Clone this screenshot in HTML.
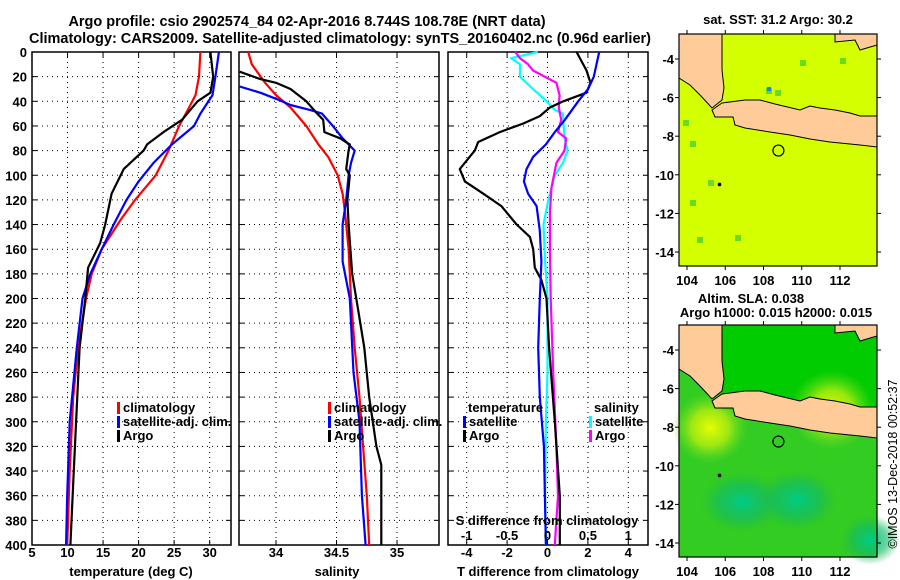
<!DOCTYPE html>
<html><head><meta charset="utf-8"><style>
html,body{margin:0;padding:0;background:#fff}
svg{display:block;font-family:"Liberation Sans",sans-serif;font-weight:bold}
</style></head><body>
<svg id="c" width="900" height="580" viewBox="0 0 900 580"></svg>
<script>
// ---------- data ----------
const depthTicks=[0,20,40,60,80,100,120,140,160,180,200,220,240,260,280,300,320,340,360,380,400];
const tempTicks=[5,10,15,20,25,30];
const salTicks=[34,34.5,35];
const tdiffTicks=[-4,-2,0,2,4];
const sdiffTicks=[-1,-0.5,0,0.5,1];
const tempClimDepth=[0,20,35,45,60,80,100,120,135,160,180,200,240,280,340,400];
const tempClim=[28.7,28.5,28.0,27.1,25.7,24.2,22.4,19.5,17.6,14.8,13.4,12.6,11.5,10.8,10.3,9.95];
const tempSatDepth=[0,20,35,50,60,75,90,105,120,140,160,180,200,240,300,360,400];
const tempSat=[31.3,30.8,30.4,28.7,27.8,24.7,22.1,20.0,18.3,16.5,14.8,13.2,12.1,11.3,10.3,9.95,9.8];
const tempArgoDepth=[0,20,33,40,55,65,75,80,95,115,140,155,175,200,240,300,350,400];
const tempArgo=[30.1,30.5,30.1,28.3,26.1,23.5,21.2,20.7,17.9,16.2,15.3,14.6,12.9,12.5,11.7,11.2,10.8,10.4];
const salClimDepth=[0,10,25,35,45,60,75,85,100,115,130,160,200,240,280,320,360,400];
const salClim=[33.77,33.80,33.91,34.0,34.12,34.25,34.35,34.43,34.51,34.55,34.57,34.60,34.62,34.65,34.69,34.72,34.75,34.77];
const salSatDepth=[28,33,38,43,47,50,60,70,80,90,100,120,140,170,200,260,300,360,400];
const salSat=[33.70,33.87,34.0,34.12,34.28,34.38,34.47,34.55,34.65,34.62,34.60,34.58,34.55,34.55,34.61,34.64,34.69,34.71,34.74];
const salArgoDepth=[16,22,25,30,40,50,55,65,70,75,80,95,100,120,140,180,210,240,280,320,335,400];
const salArgo=[33.70,33.87,34.0,34.12,34.25,34.34,34.39,34.40,34.53,34.61,34.60,34.58,34.61,34.59,34.60,34.63,34.68,34.73,34.77,34.83,34.87,34.87];
const tdArgoDepth=[0,15,25,33,40,45,52,58,65,73,80,85,95,105,115,125,140,150,160,175,185,200,240,300,360,400];
const tdArgo=[1.44,1.93,2.13,1.93,0.78,0.12,-0.38,-1.2,-2.36,-3.43,-3.6,-3.85,-4.34,-4.09,-3.18,-2.28,-1.53,-0.87,-0.71,-0.63,-0.30,-0.05,0.08,0.36,0.61,0.61];
const tdSatDepth=[0,20,30,40,55,65,75,85,95,105,115,125,135,145,170,200,240,280,320,360,400];
const tdSat=[2.56,2.29,2.01,1.52,0.86,0.36,-0.08,-0.71,-1.04,-1.17,-0.96,-0.54,-0.46,-0.38,-0.30,-0.38,-0.46,-0.38,-0.18,-0.13,-0.08];
const sdSatDepth=[0,5,10,20,30,40,47,50,60,70,80,90,100,120,140,170,200,260,300,360,400];
const sdSat=[-0.12,-0.45,-0.34,-0.34,-0.18,-0.01,0.09,0.19,0.20,0.21,0.25,0.19,0.09,0.01,-0.05,-0.03,0.0,0.0,-0.02,-0.03,-0.02];
const sdArgoDepth=[0,5,10,15,25,35,45,55,65,70,80,90,110,130,160,200,260,320,360,400];
const sdArgo=[-0.40,-0.34,-0.24,-0.18,0.11,0.15,0.14,0.17,0.13,0.23,0.21,0.11,0.05,0.03,0.03,0.04,0.07,0.11,0.13,0.09];
const lonTicks=[104,106,108,110,112];
const latTicks=[-4,-6,-8,-10,-12,-14];
const argoLon=108.78, argoLat=-8.744;

// ---------- helpers ----------
const svg=document.getElementById('c');
const NS='http://www.w3.org/2000/svg';
function mk(tag,attrs,parent){const e=document.createElementNS(NS,tag);for(const k in attrs)e.setAttribute(k,attrs[k]);(parent||svg).appendChild(e);return e;}
function txt(s,x,y,anchor,size,parent){const t=mk('text',{x:x,y:y,'text-anchor':anchor||'middle','font-size':size||13,fill:'#000'},parent);t.textContent=s;return t;}
const Y0=52,Y1=545;
const yD=d=>Y0+(d/400)*(Y1-Y0);
function lin(d0,d1,r0,r1){return v=>r0+(v-d0)/(d1-d0)*(r1-r0);}

function panel(name,x0,x1,xs,ticks,fmt,yLabels){
  const g=mk('g',{});
  
  
  mk('rect',{x:x0,y:Y0,width:x1-x0,height:Y1-Y0,fill:'#fff',stroke:'none'},g);
  depthTicks.forEach(d=>{
    const y=yD(d);
    if(d>0&&d<400){const l=mk('line',{x1:x0,x2:x1,y1:y,y2:y,stroke:'#000','stroke-width':1,'stroke-dasharray':'1,4'},g);}
    mk('line',{x1:x0,x2:x0+5,y1:y,y2:y,stroke:'#000'},g);
    mk('line',{x1:x1-5,x2:x1,y1:y,y2:y,stroke:'#000'},g);
    if(yLabels){const t=txt(String(d),27,y+5,'end',13,g);}
  });
  ticks.forEach(v=>{
    const x=xs(v);
    const l=mk('line',{x1:x,x2:x,y1:Y0,y2:Y1,stroke:'#000','stroke-dasharray':'1,4'},g);
    
    
    mk('line',{x1:x,x2:x,y1:Y1-5,y2:Y1,stroke:'#000'},g);
    mk('line',{x1:x,x2:x,y1:Y0,y2:Y0+5,stroke:'#000'},g);
    const t=txt(fmt(v),x,557,'middle',13,g);
    
    
  });
  mk('rect',{x:x0,y:Y0,width:x1-x0,height:Y1-Y0,fill:'none',stroke:'#000','stroke-width':1.5},g);
  return g;
}
function series(name,depths,vals,xs,color,g){
  const pts=depths.map((d,i)=>xs(vals[i]).toFixed(1)+','+yD(d).toFixed(1)).join(' ');
  const p=mk('polyline',{points:pts,fill:'none',stroke:color,'stroke-width':2.2,'stroke-linejoin':'round'},g);
  
  
}
function legend(items,x,y,g){
  items.forEach((it,i)=>{
    const yy=y+i*14;
    mk('rect',{x:x,y:yy-10,width:3,height:12,fill:it[1]},g);
    const t=txt(it[0],x+6,yy,'start',13,g);
    
    
  });
}

// titles
let t=txt('Argo profile: csio 2902574_84 02-Apr-2016 8.744S 108.78E (NRT data)',307,26,'middle',14.5);


t=txt('Climatology: CARS2009. Satellite-adjusted climatology: synTS_20160402.nc (0.96d earlier)',340,43,'middle',14.5);
t.setAttribute('textLength','622');



// panel 1 temperature
const xT=lin(5,33,32,231);
const g1=panel('temperature-panel',32,231,xT,tempTicks,v=>String(v),true);
series('temp-climatology-line',tempClimDepth,tempClim,xT,'#f00',g1);
series('temp-satellite-line',tempSatDepth,tempSat,xT,'#00f',g1);
series('temp-argo-line',tempArgoDepth,tempArgo,xT,'#000',g1);
legend([['climatology','#f00'],['satellite-adj. clim.','#00f'],['Argo','#000']],117,412,g1);
t=txt('temperature (deg C)',131,576,'middle',13);



// panel 2 salinity
const xS=lin(33.694,35.347,239,439);
const g2=panel('salinity-panel',239,439,xS,salTicks,v=>String(v),false);
series('sal-climatology-line',salClimDepth,salClim,xS,'#f00',g2);
series('sal-satellite-line',salSatDepth,salSat,xS,'#00f',g2);
series('sal-argo-line',salArgoDepth,salArgo,xS,'#000',g2);
legend([['climatology','#f00'],['satellite-adj. clim.','#00f'],['Argo','#000']],328,412,g2);
t=txt('salinity',337,576,'middle',13);



// panel 3 differences
const xTd=lin(-4,4,466.7,628.3);
const xSd=lin(-1,1,466.7,628.3);
const g3=panel('difference-panel',448,648,xTd,tdiffTicks,v=>String(v),false);
series('sdiff-satellite-line',sdSatDepth,sdSat,xSd,'#0ff',g3);
series('sdiff-argo-line',sdArgoDepth,sdArgo,xSd,'#f0f',g3);
series('tdiff-argo-line',tdArgoDepth,tdArgo,xTd,'#000',g3);
series('tdiff-satellite-line',tdSatDepth,tdSat,xTd,'#00f',g3);
t=txt('temperature',468,412,'start',13,g3);


t=txt('salinity',594,412,'start',13,g3);


legend([['satellite','#00f'],['Argo','#000']],463,426,g3);
legend([['satellite','#0ff'],['Argo','#f0f']],589,426,g3);
sdiffTicks.forEach(v=>{const tt=txt(String(v),xSd(v),540,'middle',13,g3);});
t=txt('S difference from climatology',547,525,'middle',13,g3);


t=txt('T difference from climatology',548,576,'middle',13);



// ---------- maps ----------
const MX0=679,MX1=877;
const lonX=lin(104,112,687,840);
const defs=mk('defs',{});
function rg(id,stops){const r=mk('radialGradient',{id:id},defs);stops.forEach(s=>mk('stop',{offset:s[0],'stop-color':s[1],'stop-opacity':s[2]},r));}
rg('gy',[[0,'#e6ff00',1],[0.5,'#b8ee10',0.8],[1,'#66dd22',0]]);
rg('gt',[[0,'#00cc88',1],[0.6,'#11bb66',0.6],[1,'#22bb44',0]]);
const java='722,103 745,100 760,100 775,104 800,110 810,106 820,108 835,110 850,113 860,116 877,116 877,147 860,145 830,142 810,139 790,135 770,132 745,128 735,125 733,117 715,117 712,110';
const sumatra='679,34 722,34 722,70 724,88 722,100 712,108 700,95 690,85 679,78';
const topright='835,34 877,34 877,45 860,50 855,40 835,42';
function map(name,top,bottom,isSla){
  const off=top-34;
  const g=mk('g',{});
  
  
  const latY=lin(-4,-14,59+off,252+off);
  mk('rect',{x:MX0,y:top,width:MX1-MX0,height:bottom-top,fill:isSla?'#33cc22':'#d4ff00'},g);
  if(isSla){
    mk('rect',{x:722,y:top,width:155,height:85,fill:'#00cc00'},g);
    mk('ellipse',{cx:710,cy:428,rx:38,ry:36,fill:'url(#gy)'},g);
    mk('ellipse',{cx:832,cy:410,rx:42,ry:40,fill:'url(#gy)'},g);
    mk('ellipse',{cx:742,cy:502,rx:42,ry:30,fill:'url(#gt)'},g);
    mk('ellipse',{cx:797,cy:500,rx:40,ry:30,fill:'url(#gt)'},g);
    mk('ellipse',{cx:870,cy:540,rx:30,ry:25,fill:'url(#gt)'},g);
  } else {
    [[708,180],[690,200],[683,120],[697,237],[735,235],[775,90],[766,88],[840,58],[690,141],[800,60]].forEach(p=>mk('rect',{x:p[0],y:p[1],width:6,height:6,fill:'#66dd22'},g));
    mk('rect',{x:767,y:87,width:4,height:4,fill:'#1188ee'},g);
  }
  [sumatra,java,topright].forEach(pts=>{
    const shifted=pts.split(' ').map(p=>{const a=p.split(',');return a[0]+','+(+a[1]+off);}).join(' ');
    const poly=mk('polygon',{points:shifted,fill:'#ffcc99',stroke:'#000','stroke-width':1},g);
    
    
  });
  const mkr=mk('circle',{cx:lonX(argoLon),cy:latY(argoLat),r:5.5,fill:'none',stroke:'#000','stroke-width':1.2},g);
  
  
  mk('circle',{cx:lonX(105.7),cy:latY(-10.5),r:1.8,fill:'#000'},g);
  mk('rect',{x:MX0,y:top,width:MX1-MX0,height:bottom-top,fill:'none',stroke:'#000','stroke-width':1.2},g);
  lonTicks.forEach(v=>{
    const x=lonX(v);
    mk('line',{x1:x,x2:x,y1:bottom,y2:bottom+4,stroke:'#000'},g);
    mk('line',{x1:x,x2:x,y1:top-4,y2:top,stroke:'#000'},g);
    const tt=txt(String(v),x,bottom+19,'middle',13,g);
    
    
  });
  latTicks.forEach(v=>{
    const y=latY(v);
    mk('line',{x1:MX0-4,x2:MX0,y1:y,y2:y,stroke:'#000'},g);
    mk('line',{x1:MX1,x2:MX1+4,y1:y,y2:y,stroke:'#000'},g);
    const tt=txt(String(v),MX0-5,y+5,'end',13,g);
    
    
  });
}
t=txt('sat. SST: 31.2 Argo: 30.2',778,24,'middle',13);


map('sst-map',34,266,false);
t=txt('Altim. SLA: 0.038',751,303,'middle',13);


t=txt('Argo h1000: 0.015 h2000: 0.015',776,317,'middle',13);


map('sla-map',325,557,true);
t=txt('©IMOS 13-Dec-2018 00:52:37',0,0,'middle',12.5);
t.setAttribute('transform','translate(897,464) rotate(-90)');
t.setAttribute('font-weight','normal');


</script>
</body></html>
